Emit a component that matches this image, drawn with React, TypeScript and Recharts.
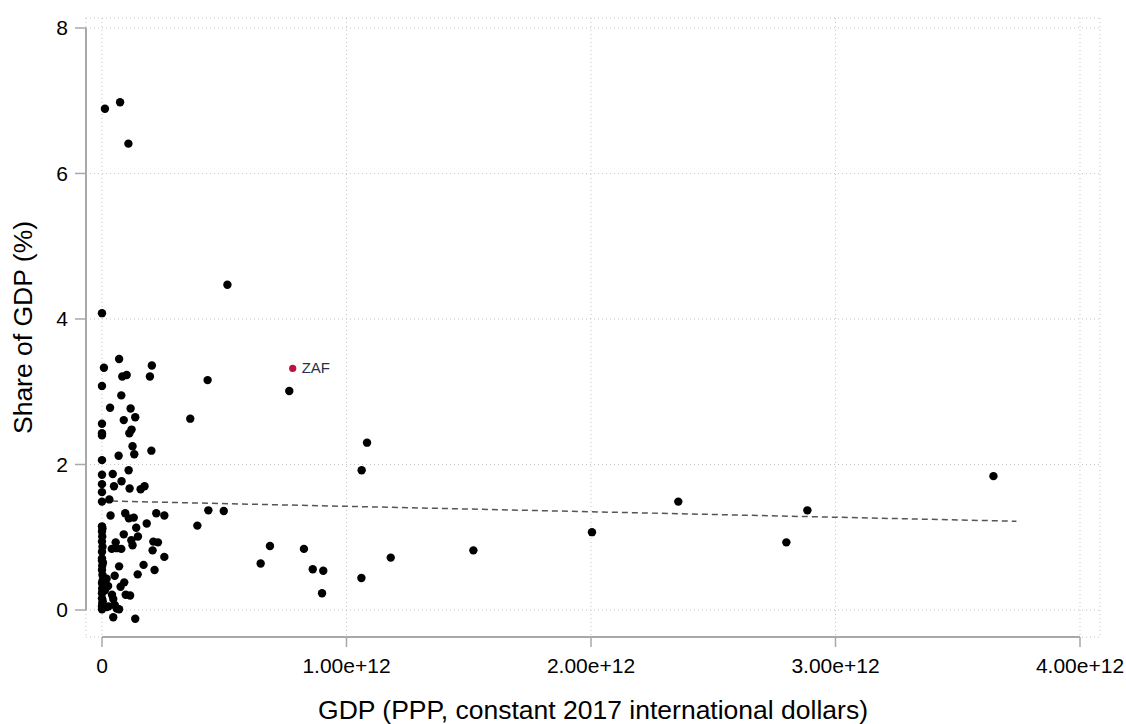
import React from "react";
import {
  ScatterChart,
  Scatter,
  XAxis,
  YAxis,
  CartesianGrid,
  ReferenceLine,
} from "recharts";

// GDP in trillions of PPP dollars, share in % of GDP (same order)
const gdpTrillions = [
  0.012, 0.074, 0.108, 0.513, 0.0,
  0.07, 0.008, 0.204, 0.083, 0.101, 0.196, 0.432, 0.766,
  0.0, 0.079, 0.033, 0.117, 0.089, 0.136, 0.361, 0.0, 0.0, 0.0, 0.121, 0.112,
  0.125, 0.132, 0.202, 0.068, 0.0,
  1.084, 1.062,
  0.109, 0.0, 0.044, 0.08, 0.0, 0.049, 0.113, 0.158, 0.174, 0.0, 0.0, 0.03,
  0.035, 0.095, 0.11, 0.13, 0.222, 0.255, 0.435, 0.498, 0.39, 0.183, 0.14, 0.0,
  0.0, 0.001, 0.0, 0.002, 0.002, 0.0,
  0.089, 0.147, 0.056, 0.12, 0.125, 0.21, 0.229, 0.04, 0.06, 0.079, 0.207, 0.255,
  0.687, 0.649, 0.826, 0.862, 0.905, 0.9, 1.061, 1.181, 1.519, 2.004, 2.357,
  2.799, 2.885, 3.646,
  0.0, 0.001, 0.0, 0.002, 0.0, 0.001, 0.0, 0.0, 0.001, 0.0, 0.0, 0.003, 0.002,
  0.003, 0.0, 0.004,
  0.07, 0.17, 0.215, 0.146, 0.052, 0.019, 0.091, 0.076, 0.025, 0.041, 0.046,
  0.097, 0.115, 0.027, 0.005, 0.052, 0.07, 0.046, 0.136, 0.019, 0.005, 0.012,
  0.06,
];
const sharePct = [
  6.89, 6.98, 6.41, 4.47, 4.08,
  3.45, 3.33, 3.36, 3.21, 3.23, 3.21, 3.16, 3.01,
  3.08, 2.95, 2.78, 2.77, 2.61, 2.65, 2.63, 2.56, 2.43, 2.4, 2.48, 2.43,
  2.25, 2.14, 2.19, 2.12, 2.06,
  2.3, 1.92,
  1.92, 1.86, 1.87, 1.77, 1.73, 1.7, 1.67, 1.66, 1.7, 1.62, 1.49, 1.52,
  1.3, 1.33, 1.26, 1.27, 1.33, 1.3, 1.37, 1.36, 1.16, 1.19, 1.13, 1.15,
  1.08, 1.01, 0.94, 0.87, 1.12, 0.8,
  1.04, 1.01, 0.93, 0.96, 0.89, 0.94, 0.93, 0.84, 0.85, 0.84, 0.82, 0.73,
  0.88, 0.64, 0.84, 0.56, 0.54, 0.23, 0.44, 0.72, 0.82, 1.07, 1.49,
  0.93, 1.37, 1.84,
  0.68, 0.61, 0.55, 0.48, 0.37, 0.3, 0.23, 0.16, 0.09, 0.05, 0.71, 0.41, 0.26,
  0.12, 0.01, 0.65,
  0.6, 0.62, 0.55, 0.49, 0.47, 0.43, 0.38, 0.32, 0.33, 0.21, 0.15,
  0.21, 0.2, 0.05, 0.06, 0.07, 0.01, -0.1, -0.12, 0.04, 0.34, 0.27,
  0.02,
];

const highlightName = "ZAF";
const highlightGdp = 0.78;
const highlightShare = 3.32;

// linear fit, read at its two ends
const fitGdp = [0, 3.74];
const fitShare = [1.5, 1.22];

const xTicks = [0, 1, 2, 3, 4];
const yTicks = [0, 2, 4, 6, 8];

const T = 1e12;
const points = gdpTrillions.map((g, i) => ({ gdp: g * T, share: sharePct[i] }));
const highlight = [{ gdp: highlightGdp * T, share: highlightShare, name: highlightName }];
const fitLine = fitGdp.map((g, i) => ({ gdp: g * T, share: fitShare[i] }));

const xMin = -0.0654 * T;
const xMax = 4.0818 * T;
const yMin = -0.371;
const yMax = 8.137;

const font = "'Liberation Sans', Arial, sans-serif";
const axisGrey = "#a8a8a8";

const fmtX = (v: number) => (v === 0 ? "0" : `${(v / T).toFixed(2)}e+12`);

export default function App() {
  return (
    <div style={{ fontFamily: font }}>
      <style>{"body{margin:0}"}</style>
      <ScatterChart
        width={1126}
        height={724}
        margin={{ top: 18, right: 26, left: 0, bottom: 0 }}
      >
        <CartesianGrid stroke="#c4c4c4" strokeDasharray="1 3" />
        <XAxis
          type="number"
          dataKey="gdp"
          domain={[xMin, xMax]}
          allowDataOverflow
          ticks={xTicks.map((t) => t * T)}
          interval={0}
          tickFormatter={fmtX}
          height={87}
          axisLine={false}
          tickLine={{ stroke: axisGrey, strokeWidth: 1.5 }}
          tickSize={10}
          tickMargin={11}
          tick={{ fill: "#000", fontSize: 21, fontFamily: font }}
          label={{
            value: "GDP (PPP, constant 2017 international dollars)",
            position: "insideBottom",
            offset: 5,
            fill: "#000",
            fontSize: 26.5,
            fontFamily: font,
          }}
        />
        <YAxis
          type="number"
          dataKey="share"
          domain={[yMin, yMax]}
          allowDataOverflow
          ticks={yTicks}
          interval={0}
          width={86}
          axisLine={false}
          tickLine={{ stroke: axisGrey, strokeWidth: 1.5 }}
          tickSize={11}
          tickMargin={7}
          tick={{ fill: "#000", fontSize: 21, fontFamily: font }}
          label={{
            value: "Share of GDP (%)",
            angle: -90,
            position: "insideLeft",
            offset: 23,
            fill: "#000",
            fontSize: 26.5,
            fontFamily: font,
            style: { textAnchor: "middle" },
          }}
        />
        <ReferenceLine
          segment={[
            { x: 0, y: yMin },
            { x: 4 * T, y: yMin },
          ]}
          stroke={axisGrey}
          strokeWidth={2}
          ifOverflow="visible"
        />
        <ReferenceLine
          segment={[
            { x: xMin, y: 0 },
            { x: xMin, y: 8 },
          ]}
          stroke={axisGrey}
          strokeWidth={2}
          ifOverflow="visible"
        />
        <Scatter
          data={fitLine}
          isAnimationActive={false}
          line={{ stroke: "#555", strokeWidth: 1.5, strokeDasharray: "6 4" }}
          shape={() => <g />}
        />
        <Scatter
          data={points}
          isAnimationActive={false}
          shape={(p: any) => <circle cx={p.cx} cy={p.cy} r={4.2} fill="#000" />}
        />
        <Scatter
          data={highlight}
          isAnimationActive={false}
          shape={(p: any) => (
            <g>
              <circle cx={p.cx} cy={p.cy} r={3.6} fill="#c0123c" />
              <text
                x={p.cx + 9}
                y={p.cy + 5}
                fontSize={15}
                fontFamily={font}
                fill="#26324a"
              >
                {p.payload.name}
              </text>
            </g>
          )}
        />
      </ScatterChart>
    </div>
  );
}
